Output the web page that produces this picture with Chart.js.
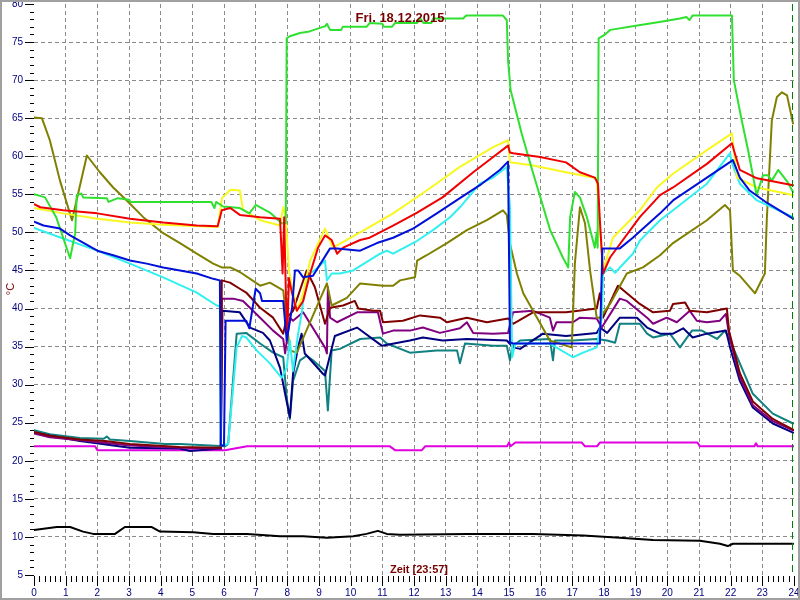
<!DOCTYPE html>
<html>
<head>
<meta charset="utf-8">
<script src="https://cdn.jsdelivr.net/npm/chart.js@4.4.1/dist/chart.umd.min.js"></script>
<style>
html,body{margin:0;padding:0;background:#fff;}
canvas{display:block;}
</style>
</head>
<body>
<canvas id="c" width="800" height="600"></canvas>
<script>
// ---- data: [hour, °C] ----
const titleText = 'Fri. 18.12.2015';
const xTitleText = 'Zeit [23:57]';
const yTitleText = '°C';
const nowHour = 23.95;

const green = [[0,55],[0.35,54.6],[0.7,52],[1.14,46.6],[1.3,49.9],[1.35,54.9],[1.5,55.1],[1.55,54.6],[2.3,54.5],[2.35,54],[2.65,54.5],[3.0,54.3],[3.05,54],[5.6,54],[5.7,53.2],[5.75,54],[5.97,53.4],[6.5,53.2],[6.8,52.5],[7.0,53.6],[7.45,52.6],[7.82,51.2],[7.95,51.2],[7.98,75.5],[8.1,75.8],[8.4,76.2],[8.7,76.4],[9.2,77.1],[9.25,77.4],[9.35,76.6],[9.7,76.6],[9.75,77],[10.5,77],[10.6,77.5],[11.0,77.4],[11.05,77],[11.3,77],[11.4,77.5],[12.1,77.5],[12.2,78.1],[12.3,77.5],[12.55,77.5],[12.6,78.1],[13.55,78.1],[13.65,78.5],[14.8,78.5],[14.93,77.9],[14.97,72.6],[15.05,68.7],[15.4,63],[15.76,57.8],[16.3,50.3],[16.7,46.7],[16.87,45.4],[16.93,52],[17.08,55.3],[17.24,54.6],[17.46,52],[17.71,48],[17.77,50],[17.8,48],[17.83,75.5],[18.0,75.9],[18.2,76.6],[19.1,77.2],[19.7,77.6],[20.4,78.1],[20.6,78.3],[20.7,77.9],[20.8,78.5],[22.04,78.5],[22.07,74.2],[22.1,70],[22.35,64.7],[22.55,60.8],[22.82,54.9],[23.02,57.5],[23.18,57.5],[23.3,56.8],[23.5,58.2],[23.8,56.6],[23.97,55.3]];

const red = [[0,53.7],[0.2,53.3],[0.92,52.9],[2,52.5],[3.03,51.8],[4.08,51.3],[5.14,50.9],[5.8,50.8],[5.93,52.9],[6.2,53.2],[6.5,52.3],[7.14,52],[7.77,51.8],[7.85,44.6],[7.9,52],[7.96,41],[8.0,36.8],[8.05,44],[8.15,42],[8.3,39.7],[8.5,41],[8.72,44.6],[8.97,48],[9.19,49.6],[9.4,49],[9.57,47.2],[9.76,48],[10.3,49],[10.6,49.3],[11.34,50.9],[12.1,52.6],[12.9,54.6],[13.87,57.9],[14.5,59.9],[14.97,61.4],[15.03,60.5],[15.13,60.4],[15.98,59.9],[16.8,59.2],[17.24,57.9],[17.71,57.2],[17.81,56.4],[17.87,51.6],[17.97,44.6],[18.19,46.7],[19.13,52],[19.77,54.9],[20.18,55.9],[21.25,59],[22.04,61.7],[22.13,60.4],[22.29,58.2],[22.83,57.1],[23.97,56.2]];

const yellow = [[0,53.2],[0.92,52.5],[2,51.8],[3.03,51.3],[4.08,51],[5.8,50.7],[5.94,54.5],[6.2,55.6],[6.5,55.5],[6.6,53],[7.14,51.6],[7.77,50.9],[7.87,53.3],[7.95,52],[8.05,45],[8.3,39.7],[8.5,42],[8.72,46.3],[9.19,50.5],[9.44,48],[10.3,50],[11.34,52.5],[12.4,55.5],[13.45,58.6],[14.5,61.2],[14.97,62.1],[15.03,59.2],[15.76,58.8],[16.8,57.9],[17.77,57.1],[17.87,50.3],[17.97,45],[18.28,49.3],[19.13,52.9],[19.67,55.9],[20.18,57.7],[21.25,60.8],[22.04,63],[22.2,57.2],[22.83,55.9],[23.97,54.9]];

const olive = [[0,65.1],[0.25,65],[0.5,62.1],[0.82,56.8],[1.2,51.6],[1.67,60.1],[2.08,57.9],[2.5,55.9],[2.93,54.2],[3.45,52],[4.08,49.9],[4.61,48.6],[5.14,47.2],[5.66,45.9],[5.93,45.4],[6.2,45.4],[6.5,44.8],[7.14,43],[7.45,43.4],[7.87,42.4],[8.08,34.5],[8.3,34.2],[9.25,43.3],[9.4,40.4],[9.88,41.4],[10.3,43.3],[11.02,43],[11.34,43],[11.56,43.7],[12.03,44.1],[12.1,46.3],[12.4,47],[13.04,48.6],[13.67,50.3],[14.3,51.6],[14.81,52.9],[14.93,52.3],[15.03,48.5],[15.25,44.6],[15.45,42],[15.76,39.7],[16.29,35.8],[16.98,34.9],[17.08,45.9],[17.24,53.3],[17.4,51.2],[17.56,45],[17.77,38.8],[17.87,38.8],[18.19,40.6],[18.72,44.6],[19.23,45.4],[19.77,47],[20.18,48.6],[21.25,51.6],[21.82,53.6],[21.98,52.9],[22.07,45],[22.29,44.3],[22.77,42],[23.08,44.6],[23.14,51.6],[23.3,64.7],[23.46,67.8],[23.62,68.4],[23.78,68],[23.97,64.3]];

const blue = [[0,51.4],[0.3,50.9],[0.82,50.5],[1.14,49.6],[1.45,48.9],[2,47.6],[2.5,47],[3.03,46.3],[3.56,45.9],[4.08,45.4],[4.61,45],[5.14,44.6],[5.66,43.9],[5.87,43.7],[5.9,22],[6.0,22],[6.05,38.4],[6.7,38.4],[6.8,37.4],[7.0,42.6],[7.14,42],[7.2,41],[7.87,41],[7.98,35.8],[8.15,40.1],[8.24,45],[8.34,45],[8.5,44.1],[8.81,44.3],[9.35,47.9],[9.57,47.9],[10.3,47.6],[10.83,48.6],[11.34,49.3],[11.97,50.5],[12.72,52.5],[13.45,54.5],[14.08,56.2],[14.71,58.2],[14.97,59.3],[15.03,35.6],[15.13,35.4],[17.87,35.4],[17.95,47.9],[18.5,47.9],[18.91,49.3],[19.77,52.5],[20.18,54.2],[21.25,57.2],[22.07,59.5],[22.29,57.2],[22.6,55.5],[23.14,53.9],[23.97,51.8]];

const cyan = [[0,50.6],[0.92,49.2],[2,47.6],[3.03,45.9],[4.08,44.1],[5.14,42.1],[5.77,40.4],[5.87,40.3],[5.9,22],[6.13,22.2],[6.4,34.9],[6.57,36.4],[6.7,36.2],[7.03,34.5],[7.45,32.8],[7.82,30.9],[7.98,32.2],[8.08,35.8],[8.18,31.8],[8.34,36.7],[8.45,39.3],[8.55,42.8],[8.72,44.6],[8.97,45.4],[9.19,46.3],[9.25,43.7],[9.4,44.6],[9.66,44.6],[10.08,45],[10.93,47.2],[11.14,47.6],[11.34,47.2],[12.1,48.9],[12.6,50.3],[13.14,52],[13.45,53.3],[14.08,56.4],[14.5,57.2],[14.93,58.6],[15.03,53.3],[15.1,33.6],[15.2,35.4],[16.29,35.4],[17.02,33.6],[17.34,34.2],[17.77,34.9],[17.93,38.8],[17.97,44.6],[18.19,45.4],[18.35,44.7],[18.91,47.2],[19.13,48.9],[19.77,51.6],[20.18,52.9],[21.25,56.4],[21.98,60.4],[22.04,59.1],[22.29,56.4],[22.83,54.2],[23.97,52]];

const maroon = [[0,23.8],[0.5,23.3],[1.45,22.8],[2.24,22.6],[3.03,22.2],[4.6,21.8],[5.9,21.7],[5.93,43.7],[6.19,43.4],[6.5,42.6],[6.7,42.1],[7.14,40.1],[7.55,38.8],[7.87,36.7],[7.98,38.8],[8.18,39.7],[8.61,45],[8.87,42.8],[9.19,38],[9.35,40.1],[9.76,40.4],[10.13,41],[10.24,40],[10.71,39.7],[10.93,39.7],[11.02,38.2],[11.65,38.4],[12.19,39.1],[12.82,38.8],[13.04,38.2],[13.67,38.8],[14.3,38.2],[14.97,38.7],[15.13,38],[15.76,39.5],[16.8,39.5],[17.77,40],[17.87,42],[17.97,38.8],[18.44,43],[19.13,40.6],[19.55,39.5],[20.08,39.7],[20.18,40.6],[20.56,40.8],[20.71,39.7],[21.25,39.5],[21.88,40],[21.95,37],[22.29,31.5],[22.7,27.8],[23.33,25.5],[23.97,24.1]];

const purple = [[0,23.6],[0.5,23.1],[1.45,22.7],[3.03,22],[4.6,21.7],[5.9,21.6],[5.93,41.3],[6.29,41.3],[6.6,41],[6.82,40.1],[7.14,38.8],[7.55,37.1],[7.87,36],[7.93,34.1],[8.08,38.8],[8.18,38.4],[8.5,39.5],[9.2,34.8],[9.25,34.1],[9.28,42.8],[9.35,38.8],[9.57,38.2],[10.2,39.5],[10.86,39.5],[11.02,36.7],[11.34,37.1],[11.87,37.1],[12.28,37.5],[12.82,36.8],[13.45,37.4],[13.67,38.2],[13.87,36.8],[14.5,36.7],[14.97,36.8],[15.13,39.5],[15.76,39.7],[16.29,38.8],[16.39,37.1],[16.5,38.2],[17.02,38.2],[17.24,38.8],[17.77,38.7],[17.93,37.5],[18.5,41.3],[18.72,41],[19.36,38.8],[19.55,38],[19.98,38.8],[20.3,38.2],[20.71,39.7],[20.93,38.4],[21.25,38.2],[21.66,38.4],[21.85,39.3],[21.95,36.5],[22.29,31],[22.7,27.3],[23.33,25.2],[23.97,24]];

const navy = [[0,23.7],[1.45,22.6],[3.03,21.7],[4.6,21.6],[4.93,21.3],[5.9,21.6],[5.95,39.7],[6.5,39.5],[6.82,37.5],[7.23,36.8],[7.45,35.8],[7.77,32.2],[7.93,28.8],[8.08,25.7],[8.18,31.4],[8.34,34.9],[8.45,36.7],[8.55,34.1],[8.66,33.6],[9.13,31.4],[9.19,31.2],[9.5,36.4],[10.2,37.5],[10.99,35.1],[11.87,35.8],[12.28,36.2],[12.91,35.8],[13.67,36],[14.93,35.8],[15.13,34.9],[15.35,34.7],[16.07,36.7],[16.8,36.4],[17.77,36.8],[17.87,37.5],[18.1,36.8],[18.5,38.8],[19.04,38.8],[19.36,37.5],[19.77,36.7],[20.18,36.7],[20.5,37.4],[20.8,36.2],[21.25,36.7],[21.85,37.1],[21.98,34.9],[22.29,30.5],[22.7,27],[23.33,24.9],[23.97,23.7]];

const teal = [[0,24],[0.5,23.5],[1.45,23],[2.2,22.9],[2.3,23.2],[2.4,22.8],[3.03,22.6],[4.14,22.2],[4.6,22.2],[6.03,21.9],[6.13,22.2],[6.4,36.7],[6.7,36.8],[7.14,35.4],[7.55,34.2],[7.87,33.6],[7.98,28.3],[8.08,25.5],[8.18,30.5],[8.4,33.2],[8.61,33.8],[8.81,33.2],[9.19,31.8],[9.28,26.6],[9.4,34.5],[9.66,34.7],[10.3,36],[10.93,36.2],[11.14,35.4],[11.87,34.2],[12.72,34.5],[13.36,34.5],[13.45,32.8],[13.61,35.4],[14.5,35.1],[14.93,35.1],[15.03,33.2],[15.1,35],[15.35,35.8],[16.29,36],[16.39,33.2],[16.45,35.8],[17.02,35.8],[17.77,36],[18.1,35.8],[18.35,35.5],[18.5,38],[19.13,38],[19.36,36.7],[19.55,36.2],[20.08,36.7],[20.4,34.9],[20.78,37.1],[21.09,37.1],[21.57,36],[21.82,37.1],[21.98,35.8],[22.29,32.8],[22.7,28.8],[23.33,26.2],[23.97,24.9]];

const magenta = [[0,21.9],[1.93,21.9],[2.0,21.4],[6.03,21.4],[6.73,21.9],[11.24,21.9],[11.4,21.4],[12.25,21.4],[12.35,21.9],[14.94,21.9],[15.0,22.4],[15.05,21.9],[15.2,22.4],[17.3,22.4],[17.4,21.9],[17.78,21.9],[17.87,22.4],[20.95,22.4],[21.03,21.9],[22.75,21.9],[22.8,22.3],[22.85,21.9],[24,21.9]];

const black = [[0,10.9],[0.72,11.3],[1.14,11.3],[1.55,10.7],[1.87,10.4],[2.56,10.4],[2.87,11.3],[3.72,11.3],[3.98,10.7],[5.03,10.6],[5.66,10.4],[6.73,10.4],[7.77,10.1],[8.5,10.1],[9.25,9.9],[10.08,10.1],[10.5,10.4],[10.86,10.8],[11.14,10.4],[11.56,10.3],[13.67,10.4],[15.76,10.4],[17.34,10.2],[18.5,9.9],[19.55,9.6],[21.03,9.5],[21.66,9.1],[21.91,8.8],[22.07,9.1],[23.33,9.1],[23.97,9.1]];

// ---- chart ----
const seriesList = [
  {name:'blue', pts: blue, color:'#0010d8'},
  {name:'red', pts: red, color:'#f00000'},
  {name:'green', pts: green, color:'#30e030'},
  {name:'yellow', pts: yellow, color:'#f8f820'},
  {name:'cyan', pts: cyan, color:'#30f0f0'},
  {name:'olive', pts: olive, color:'#808000'},
  {name:'maroon', pts: maroon, color:'#800000'},
  {name:'purple', pts: purple, color:'#800080'},
  {name:'navy', pts: navy, color:'#000080'},
  {name:'teal', pts: teal, color:'#108080'},
  {name:'magenta', pts: magenta, color:'#e000e0'},
  {name:'black', pts: black, color:'#000000'}
];

const FONT = "'Liberation Sans', Arial, sans-serif";

const decor = {
  id: 'decor',
  beforeDraw(chart) {
    const ctx = chart.ctx;
    ctx.save();
    ctx.fillStyle = '#ffffff';
    ctx.fillRect(0, 0, chart.width, chart.height);
    ctx.restore();
  },
  afterDraw(chart) {
    const ctx = chart.ctx, xs = chart.scales.x, ys = chart.scales.y, a = chart.chartArea;
    ctx.save();
    ctx.strokeStyle = '#000000';
    ctx.lineWidth = 1;
    ctx.beginPath();
    for (let v = ys.min; v <= ys.max; v++) {
      const y = Math.round(ys.getPixelForValue(v)) + 0.5;
      const len = (v % 5 === 0) ? 9 : 4;
      ctx.moveTo(a.left - len, y);
      ctx.lineTo(a.left, y);
    }
    for (let m = xs.min * 6; m <= xs.max * 6; m++) {
      const x = Math.round(xs.getPixelForValue(m / 6)) + 0.5;
      const len = (m % 6 === 0) ? 10 : 6;
      ctx.moveTo(x, a.bottom + 1);
      ctx.lineTo(x, a.bottom + 1 + len);
    }
    ctx.stroke();

    // current time marker
    const nx = Math.round(xs.getPixelForValue(nowHour)) + 0.5;
    ctx.strokeStyle = '#008000';
    ctx.setLineDash([7, 4]);
    ctx.beginPath();
    ctx.moveTo(nx, a.top);
    ctx.lineTo(nx, a.bottom);
    ctx.stroke();
    ctx.setLineDash([]);

    // texts
    ctx.fillStyle = '#7a0000';
    ctx.font = 'bold 13px ' + FONT;
    ctx.textAlign = 'center';
    ctx.textBaseline = 'alphabetic';
    ctx.fillText(titleText, 400, 22);
    ctx.font = 'bold 11px ' + FONT;
    ctx.fillText(xTitleText, 419, 573);

    ctx.save();
    ctx.translate(14, 289);
    ctx.rotate(-Math.PI / 2);
    ctx.font = '11px ' + FONT;
    ctx.fillText(yTitleText, 0, 0);
    ctx.restore();

    // frame
    ctx.strokeStyle = '#a0a0a0';
    ctx.lineWidth = 2;
    ctx.strokeRect(1, 1, chart.width - 2, chart.height - 2);
    ctx.restore();
  }
};

new Chart(document.getElementById('c'), {
  type: 'line',
  data: {
    datasets: seriesList.map(s => ({
      label: s.name,
      data: s.pts.map(p => ({x: p[0], y: p[1]})),
      borderColor: s.color,
      backgroundColor: s.color,
      borderWidth: 2,
      pointRadius: 0,
      tension: 0,
      fill: false,
      borderJoinStyle: 'round',
      borderCapStyle: 'round'
    }))
  },
  options: {
    responsive: false,
    animation: false,
    devicePixelRatio: 1,
    layout: {padding: {left: 0, top: 4, right: 6, bottom: 0}},
    plugins: {legend: {display: false}, tooltip: {enabled: false}, title: {display: false}},
    scales: {
      x: {
        type: 'linear', min: 0, max: 24,
        ticks: {stepSize: 1, autoSkip: false, maxRotation: 0, color: '#000080', padding: 12,
                font: {family: FONT, size: 10}},
        grid: {
          color: c => (c.tick && c.tick.value > 0 && c.tick.value < 24) ? '#8a8a8a' : 'rgba(0,0,0,0)',
          drawTicks: false, lineWidth: 1
        },
        border: {display: false, dash: [4, 3]},
        afterFit(s) { s.height = 25; s.paddingLeft = 0; s.paddingRight = 0; }
      },
      y: {
        type: 'linear', min: 5, max: 80,
        ticks: {stepSize: 5, color: '#000080', padding: 11, font: {family: FONT, size: 10}},
        grid: {
          color: c => (c.tick && c.tick.value > 5 && c.tick.value < 80) ? '#8a8a8a' : 'rgba(0,0,0,0)',
          drawTicks: false, lineWidth: 1
        },
        border: {display: false, dash: [4, 3]},
        afterFit(s) { s.width = 34; s.paddingTop = 0; s.paddingBottom = 0; }
      }
    }
  },
  plugins: [decor]
});
</script>
</body>
</html>
